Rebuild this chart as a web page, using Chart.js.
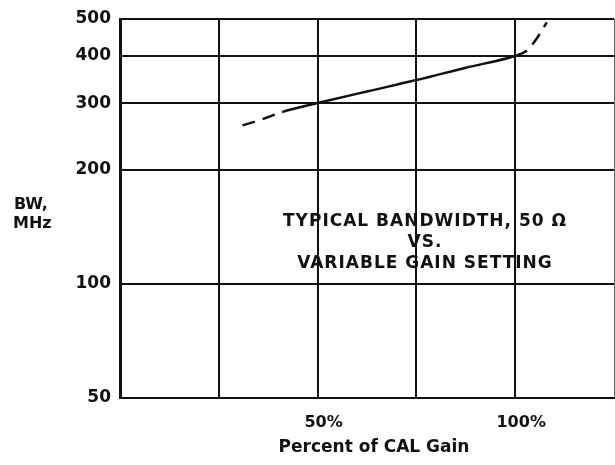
<!DOCTYPE html>
<html>
<head>
<meta charset="utf-8">
<script src="https://cdn.jsdelivr.net/npm/chart.js@4/dist/chart.umd.min.js"></script>
<style>
  html, body { margin: 0; padding: 0; background: #fff; }
  #wrap { width: 615px; height: 465px; }
</style>
</head>
<body>
<div id="wrap"><canvas id="c" width="615" height="465"></canvas></div>
<script>
// Data
const gainPct   = [31, 36, 41, 50, 62.5, 75, 87.5, 100, 103, 105.5, 108];
const bandwidth = [262, 272, 284, 300, 322, 345, 372, 400, 413, 445, 490];
const yTickValues = [50, 100, 200, 300, 400, 500];
const xLabeledTicks = [50, 100];
const solidFrom = 41;
const solidTo = 100;
const yAxisTitle = ['BW,', 'MHz'];
const xAxisTitle = 'Percent of CAL Gain';
const noteLines = ['TYPICAL BANDWIDTH, 50 \u03A9', 'VS.', 'VARIABLE GAIN SETTING'];

const FONT = "'DejaVu Sans', 'Liberation Sans', Arial, sans-serif";
const INK = '#111';

const textPlugin = {
  id: 'texts',
  beforeDraw(chart) {
    const c = chart.ctx;
    c.save();
    c.fillStyle = '#fff';
    c.fillRect(0, 0, chart.width, chart.height);
    c.restore();
  },
  afterDraw(chart) {
    const c = chart.ctx;
    c.save();
    c.fillStyle = INK;
    c.textBaseline = 'middle';
    // y axis title (horizontal)
    c.font = 'bold 16px ' + FONT;
    c.textAlign = 'left';
    c.fillText(yAxisTitle[0], 14, 205);
    c.fillText(yAxisTitle[1], 13, 224);
    // x axis title
    c.font = 'bold 17px ' + FONT;
    c.textAlign = 'center';
    c.fillText(xAxisTitle, 374, 448);
    // note
    c.font = 'bold 17px ' + FONT;
    try { c.letterSpacing = '1px'; } catch (e) {}
    const cx = 425;
    c.fillText(noteLines[0], cx, 222);
    c.fillText(noteLines[1], cx, 243);
    c.fillText(noteLines[2], cx, 264);
    c.restore();
  }
};

new Chart(document.getElementById('c'), {
  type: 'line',
  data: {
    datasets: [{
      data: gainPct.map((g, i) => ({ x: g, y: bandwidth[i] })),
      borderColor: INK,
      borderWidth: 2.5,
      pointRadius: 0,
      fill: false,
      cubicInterpolationMode: 'monotone',
      segment: {
        borderDash: ctx => (ctx.p0.parsed.x < solidFrom || ctx.p0.parsed.x >= solidTo) ? [13, 8] : undefined
      }
    }]
  },
  options: {
    responsive: false,
    animation: false,
    devicePixelRatio: 1,
    layout: { padding: { top: 19, right: 1, left: 0, bottom: 0 } },
    plugins: { legend: { display: false }, tooltip: { enabled: false }, title: { display: false } },
    scales: {
      x: {
        type: 'linear',
        min: 0, max: 125,
        afterFit(s) { s.height = 67; s.paddingRight = 0; s.paddingLeft = 0; },
        ticks: {
          stepSize: 25,
          color: INK,
          font: { family: FONT, size: 16, weight: 'bold' },
          padding: 15,
          labelOffset: 6,
          maxRotation: 0,
          autoSkip: false,
          callback: v => xLabeledTicks.includes(v) ? v + '%' : ''
        },
        grid: {
          color: ctx => (ctx.tick && ctx.tick.value === 125) ? '#666' : INK,
          lineWidth: ctx => (ctx.tick && ctx.tick.value === 125) ? 1 : 2,
          drawTicks: false
        },
        border: { color: INK, width: 2 }
      },
      y: {
        type: 'logarithmic',
        min: 50, max: 500,
        afterFit(s) { s.width = 120; s.paddingTop = 0; s.paddingBottom = 0; },
        afterBuildTicks(s) { s.ticks = yTickValues.map(v => ({ value: v })); },
        ticks: {
          color: INK,
          font: { family: FONT, size: 17, weight: 'bold' },
          padding: 9,
          autoSkip: false,
          callback: v => String(v)
        },
        grid: { color: INK, lineWidth: 2, drawTicks: false },
        border: { color: INK, width: 3 }
      }
    }
  },
  plugins: [textPlugin]
});
</script>
</body>
</html>
